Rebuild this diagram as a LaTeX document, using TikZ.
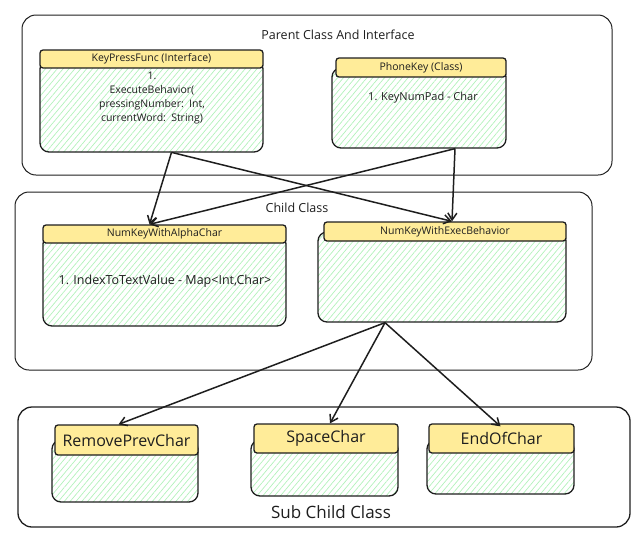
\documentclass[tikz,border=0pt]{standalone}
\usepackage{fontspec}
\setmainfont{Open Sans}
\usetikzlibrary{arrows.meta,patterns.meta,calc}
\definecolor{hdr}{HTML}{FFEC99}
\definecolor{hatch}{HTML}{B2F2BB}
\definecolor{ink}{HTML}{1E1E1E}
\tikzset{
  container/.style={draw=ink, line width=1pt, rounded corners=14pt},
  body/.style={draw=ink, line width=1.3pt, rounded corners=9pt,
    pattern={Lines[angle=50,distance=4.5pt,line width=0.7pt]}, pattern color=hatch,
    inner sep=0pt},
  hdrbox/.style={draw=ink, line width=1.3pt, fill=hdr, rounded corners=3pt, inner sep=0pt},
  conn/.style={draw=ink, line width=1.5pt, -{Straight Barb[length=7pt,width=9pt]}},
  lbl/.style={text=ink, font=\fontsize{12.5}{15}\selectfont},
  small/.style={text=ink, font=\fontsize{10.5}{13}\selectfont, align=center},
  big/.style={text=ink, font=\fontsize{16}{19}\selectfont},
}
\begin{document}
\begin{tikzpicture}[x=1pt,y=-1pt]
\useasboundingbox (0,0) rectangle (639,536);
% containers
\draw[container] (22,15) rectangle (612,175);
\draw[container] (15,192) rectangle (592,370);
\draw[container, line width=1.3pt] (18,407) rectangle (630,527);
\node[lbl] (lp) at (338,35) {Parent Class And Interface};
\node[lbl] (lc) at (297,208) {Child Class};
\node[big, font=\fontsize{17}{20}\selectfont] (ls) at (331,512) {Sub Child Class};
% KeyPressFunc
\node[body, minimum width=223pt, minimum height=92pt] (kpb) at (151.5,106) {};
\node[hdrbox, minimum width=223pt, minimum height=18pt, small] (kph) at (151.5,59) {KeyPressFunc (Interface)};
\node[small, text width=150pt, font=\fontsize{10.5}{14}\selectfont] (kpt) at (152,98) {1.\\ExecuteBehavior(\\pressingNumber: Int,\\currentWord: String)};
% PhoneKey
\node[body, minimum width=174pt, minimum height=80pt] (pkb) at (419,108) {};
\node[hdrbox, minimum width=170pt, minimum height=19pt, small] (pkh) at (421,67.5) {PhoneKey (Class)};
\node[small, font=\fontsize{11}{13}\selectfont] (pkt) at (423,98) {1. KeyNumPad - Char};
% NumKeyWithAlphaChar
\node[body, minimum width=243pt, minimum height=91pt] (nab) at (164.5,280.5) {};
\node[hdrbox, minimum width=243pt, minimum height=18pt, small] (nah) at (164.5,234) {NumKeyWithAlphaChar};
\node[small, font=\fontsize{12.5}{15}\selectfont] (nat) at (165,281) {1. IndexToTextValue - Map<Int,Char>};
% NumKeyWithExecBehavior
\node[body, minimum width=248pt, minimum height=90pt] (neb) at (442,277) {};
\node[hdrbox, minimum width=242pt, minimum height=19pt, small] (neh) at (445,231.5) {NumKeyWithExecBehavior};
% sub child
\node[body, minimum width=146pt, minimum height=62pt] (rpb) at (125,471) {};
\node[hdrbox, minimum width=143pt, minimum height=30pt, big] (rph) at (126.5,440) {RemovePrevChar};
\node[body, minimum width=147pt, minimum height=56pt] (scb) at (324.5,468) {};
\node[hdrbox, minimum width=144pt, minimum height=29pt, big] (sch) at (326,438.5) {SpaceChar};
\node[body, minimum width=147pt, minimum height=54pt] (ecb) at (500.5,467) {};
\node[hdrbox, minimum width=145pt, minimum height=29pt, big] (ech) at (501.5,438.5) {EndOfChar};
% connectors
\draw[conn] ([xshift=20pt]kpb.south) -- ([xshift=-15pt]nah.north);
\draw[conn] ([xshift=20pt]kpb.south) -- ([xshift=7pt]neh.north);
\draw[conn] ([xshift=36pt]pkb.south) -- ([xshift=-15pt]nah.north);
\draw[conn] ([xshift=36pt]pkb.south) -- ([xshift=7pt]neh.north);
\draw[conn] ([xshift=-57pt]neb.south) -- ([xshift=-8pt]rph.north);
\draw[conn] ([xshift=-57pt]neb.south) -- ([xshift=4pt]sch.north);
\draw[conn] ([xshift=-57pt]neb.south) -- ([xshift=-1pt,yshift=-3pt]ech.north);
\end{tikzpicture}
\end{document}
